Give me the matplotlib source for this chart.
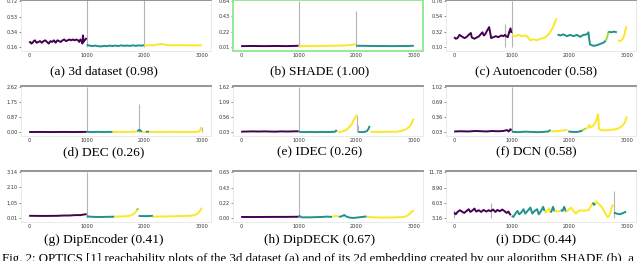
"""OPTICS reachability plots, 3x3 grid with a caption underneath."""

import matplotlib
matplotlib.use("Agg")
import matplotlib.pyplot as plt

# ---------------------------------------------------------------------------
# Data
# ---------------------------------------------------------------------------

PURPLE = "#440154"
TEAL = "#21918c"
YELLOW = "#fde725"
LIME = "#a0da39"

TITLES = [
    "(a) 3d dataset (0.98)", "(b) SHADE (1.00)", "(c) Autoencoder (0.58)",
    "(d) DEC (0.26)", "(e) IDEC (0.26)", "(f) DCN (0.58)",
    "(g) DipEncoder (0.41)", "(h) DipDECK (0.67)", "(i) DDC (0.44)",
]

YTICKS = [
    [0.16, 0.34, 0.53, 0.72], [0.01, 0.22, 0.43, 0.64], [0.10, 0.32, 0.54, 0.76],
    [0.00, 0.87, 1.75, 2.62], [0.03, 0.56, 1.09, 1.62], [0.03, 0.36, 0.69, 1.02],
    [0.01, 1.05, 2.10, 3.14], [0.00, 0.22, 0.43, 0.65], [3.16, 6.03, 8.90, 11.78],
]
XTICKS = [0, 1000, 2000, 3000]

# (a) 3d dataset
a_segments = [
    (PURPLE,
     [0, 20, 40, 60, 80, 100, 130, 160, 190, 220, 250, 280, 310, 340, 370, 400,
      430, 460, 490, 520, 550, 580, 610, 640, 670, 700, 730, 760, 790, 820, 850,
      870, 890, 910, 925, 935, 945, 960, 980, 995],
     [0.21, 0.22, 0.20, 0.21, 0.23, 0.24, 0.21, 0.22, 0.23, 0.21, 0.23, 0.24,
      0.22, 0.20, 0.23, 0.22, 0.24, 0.21, 0.24, 0.23, 0.22, 0.24, 0.25, 0.23,
      0.24, 0.25, 0.24, 0.25, 0.24, 0.25, 0.24, 0.22, 0.25, 0.23, 0.20, 0.30,
      0.22, 0.24, 0.25, 0.27]),
    (TEAL,
     [1000, 1020, 1050, 1100, 1150, 1200, 1250, 1300, 1350, 1400, 1450, 1500,
      1550, 1600, 1650, 1700, 1750, 1800, 1850, 1900, 1950, 1995],
     [0.19, 0.18, 0.175, 0.17, 0.175, 0.168, 0.165, 0.172, 0.168, 0.175, 0.17,
      0.175, 0.17, 0.178, 0.172, 0.176, 0.172, 0.178, 0.173, 0.177, 0.175, 0.18]),
    (YELLOW,
     [2000, 2050, 2100, 2150, 2200, 2250, 2300, 2350, 2400, 2450, 2500, 2550,
      2600, 2650, 2700, 2750, 2800, 2850, 2900, 2950, 3000],
     [0.18, 0.178, 0.182, 0.178, 0.185, 0.19, 0.195, 0.19, 0.183, 0.178, 0.182,
      0.177, 0.183, 0.178, 0.182, 0.177, 0.18, 0.176, 0.18, 0.178, 0.18]),
]
a_spikes = [(1000, 0.76), (2000, 0.76)]

# (b) SHADE
b_segments = [
    (PURPLE, [0, 200, 400, 600, 800, 1000],
     [0.02, 0.022, 0.02, 0.022, 0.02, 0.025]),
    (YELLOW, [1000, 1300, 1600, 1800, 1900, 1980, 2000],
     [0.02, 0.022, 0.025, 0.03, 0.035, 0.045, 0.04]),
    (TEAL, [2000, 2300, 2600, 2900, 3000],
     [0.025, 0.022, 0.02, 0.022, 0.025]),
]
b_spikes = [(1000, 0.64), (2000, 0.51)]

# (c) Autoencoder
c_segments = [
    (PURPLE,
     [0, 29, 58, 93, 133, 180, 220, 261, 290, 307, 353, 394, 434, 469, 492, 515,
      538, 573, 608, 625, 643, 683, 724, 770, 816, 857, 880, 903, 932, 955, 979,
      995],
     [0.24, 0.217, 0.226, 0.273, 0.25, 0.226, 0.245, 0.28, 0.30, 0.236, 0.217,
      0.236, 0.254, 0.29, 0.31, 0.264, 0.28, 0.334, 0.385, 0.31, 0.226, 0.24,
      0.254, 0.24, 0.264, 0.254, 0.273, 0.254, 0.24, 0.31, 0.367, 0.30]),
    (YELLOW,
     [1005, 1060, 1117, 1175, 1233, 1280, 1320, 1378, 1436, 1494, 1552, 1610,
      1668, 1725, 1766, 1783],
     [0.264, 0.254, 0.273, 0.254, 0.264, 0.24, 0.194, 0.208, 0.194, 0.217,
      0.226, 0.254, 0.31, 0.40, 0.49, 0.51]),
    (TEAL,
     [1795, 1841, 1899, 1957, 2015, 2073, 2131, 2189, 2247, 2304, 2333, 2345,
      2362, 2420, 2478, 2536, 2594, 2634],
     [0.28, 0.264, 0.28, 0.254, 0.273, 0.254, 0.273, 0.245, 0.273, 0.28, 0.31,
      0.217, 0.133, 0.114, 0.123, 0.142, 0.16, 0.19]),
    (LIME, [2634, 2658, 2681], [0.19, 0.24, 0.32]),
    (TEAL, [2681, 2727, 2773, 2826], [0.32, 0.31, 0.32, 0.31]),
    (YELLOW, [2843, 2883, 2924, 2953, 2982, 3000],
     [0.194, 0.184, 0.208, 0.264, 0.367, 0.395]),
]
c_spikes = [(892, 0.43), (1000, 0.76)]

# (d) DEC
d_segments = [
    (PURPLE, [0, 200, 400, 600, 800, 1000], [0.02, 0.025, 0.02, 0.025, 0.02, 0.03]),
    (TEAL, [1000, 1100, 1200, 1300, 1400, 1450], [0.03, 0.02, 0.03, 0.02, 0.03, 0.02]),
    (YELLOW, [1450, 1550, 1650, 1750, 1850, 1880], [0.02, 0.03, 0.02, 0.03, 0.04, 0.05]),
    (TEAL, [1880, 1900, 1920, 1940, 1960], [0.05, 0.12, 0.15, 0.08, 0.03]),
    (YELLOW, [1960, 2000, 2030], [0.03, 0.02, 0.03]),
    (TEAL, [2030, 2060, 2080], [0.03, 0.04, 0.03]),
    (YELLOW, [2080, 2300, 2500, 2700, 2900, 2960, 2990],
     [0.03, 0.02, 0.03, 0.02, 0.03, 0.06, 0.30]),
]
d_spikes = [(1000, 2.62), (1907, 1.67), (3000, 0.34)]

# (e) IDEC
e_segments = [
    (PURPLE, [0, 100, 200, 300, 400, 500, 600, 700, 800, 900, 1000],
     [0.055, 0.06, 0.065, 0.06, 0.065, 0.06, 0.055, 0.065, 0.06, 0.065, 0.07]),
    (TEAL, [1000, 1100, 1200, 1300, 1400, 1500, 1618, 1641, 1659],
     [0.05, 0.04, 0.045, 0.04, 0.045, 0.04, 0.05, 0.065, 0.12]),
    (YELLOW, [1676, 1752, 1810, 1850, 1885, 1920, 1943, 1972, 2001, 2013],
     [0.05, 0.053, 0.10, 0.147, 0.24, 0.30, 0.416, 0.53, 0.61, 0.66]),
    (TEAL, [2036, 2080, 2129, 2187, 2216, 2233],
     [0.04, 0.04, 0.04, 0.077, 0.17, 0.26]),
    (YELLOW, [2245, 2400, 2550, 2709, 2796, 2871, 2929, 2958, 2981, 3000],
     [0.053, 0.045, 0.05, 0.053, 0.09, 0.147, 0.24, 0.33, 0.45, 0.51]),
]
e_spikes = [(1000, 1.62), (2020, 0.60), (2030, 0.30)]

# (f) DCN
f_segments = [
    (PURPLE, [0, 120, 240, 366, 480, 560, 657, 760, 850, 918, 948, 977, 995],
     [0.05, 0.055, 0.05, 0.06, 0.055, 0.05, 0.06, 0.055, 0.06, 0.08, 0.05, 0.10, 0.07]),
    (TEAL, [1000, 1100, 1238, 1350, 1450, 1550, 1640, 1674],
     [0.045, 0.035, 0.045, 0.04, 0.035, 0.04, 0.05, 0.088]),
    (YELLOW, [1686, 1750, 1820, 1880, 1936, 1965],
     [0.05, 0.055, 0.06, 0.07, 0.08, 0.09]),
    (TEAL, [1983, 2052, 2140, 2198, 2227], [0.05, 0.04, 0.04, 0.055, 0.073]),
    (LIME, [2227, 2260, 2285], [0.073, 0.10, 0.117]),
    (YELLOW,
     [2297, 2325, 2343, 2366, 2401, 2436, 2465, 2488, 2500, 2517, 2576, 2692,
      2808, 2866, 2924, 2965, 3000],
     [0.10, 0.14, 0.19, 0.14, 0.16, 0.21, 0.28, 0.377, 0.43, 0.10, 0.073, 0.08,
      0.10, 0.124, 0.174, 0.247, 0.377]),
]
f_spikes = [(1000, 1.02)]

# (g) DipEncoder
g_segments = [
    (PURPLE, [0, 250, 500, 600, 700, 800, 900, 950, 1000],
     [0.18, 0.17, 0.18, 0.20, 0.20, 0.226, 0.226, 0.27, 0.29]),
    (TEAL, [1000, 1050, 1200, 1350, 1480], [0.16, 0.12, 0.096, 0.11, 0.12]),
    (YELLOW, [1480, 1600, 1700, 1760, 1800, 1840, 1870],
     [0.12, 0.14, 0.16, 0.20, 0.27, 0.38, 0.55]),
    (LIME, [1870, 1885, 1895], [0.55, 0.66, 0.59]),
    (TEAL, [1900, 1950, 2050, 2150], [0.18, 0.16, 0.16, 0.18]),
    (YELLOW, [2150, 2400, 2600, 2800, 2880, 2930, 2960, 2990, 3000],
     [0.12, 0.14, 0.16, 0.18, 0.226, 0.33, 0.485, 0.66, 0.72]),
]
g_spikes = [(1000, 3.14)]

# (h) DipDECK
h_segments = [
    (PURPLE, [0, 200, 400, 600, 800, 1000],
     [0.019, 0.018, 0.019, 0.02, 0.02, 0.022]),
    (TEAL, [1000, 1050, 1200, 1400, 1500, 1580],
     [0.04, 0.014, 0.014, 0.019, 0.024, 0.019]),
    (YELLOW, [1580, 1620, 1680, 1700], [0.024, 0.033, 0.028, 0.02]),
    (TEAL, [1700, 1760, 1790, 1820, 1880, 1950, 2050, 2150, 2180],
     [0.019, 0.033, 0.047, 0.028, 0.01, 0.005, 0.014, 0.024, 0.026]),
    (YELLOW, [2180, 2300, 2500, 2700, 2820, 2880, 2930, 2965, 3000],
     [0.019, 0.014, 0.01, 0.014, 0.019, 0.033, 0.066, 0.095, 0.114]),
]
h_spikes = [(1000, 0.65)]

# (i) DDC
i_segments = [
    (PURPLE,
     [0, 29, 59, 100, 135, 176, 218, 253, 282, 323, 353, 382, 429, 470, 512, 559,
      600, 635, 676, 717, 753, 794, 835, 870, 911, 941, 970, 988],
     [4.23, 3.91, 4.35, 4.67, 4.42, 4.17, 4.54, 4.86, 4.35, 4.67, 4.98, 4.42,
      4.67, 4.35, 4.73, 4.42, 4.67, 4.48, 4.80, 4.35, 4.73, 4.48, 4.80, 4.54,
      4.17, 4.42, 3.91, 3.79]),
    (TEAL,
     [1000, 1029, 1064, 1100, 1129, 1164, 1205, 1235, 1276, 1323, 1358, 1399,
      1441, 1470, 1511, 1546, 1570],
     [3.6, 3.41, 4.04, 4.54, 3.91, 4.23, 4.86, 4.04, 4.54, 5.17, 4.04, 4.54,
      4.86, 3.91, 4.54, 5.30, 4.54]),
    (YELLOW, [1570, 1588, 1617, 1646, 1676], [4.54, 4.23, 4.54, 5.05, 4.23]),
    (TEAL, [1676, 1693, 1717, 1746], [4.23, 4.54, 5.30, 4.42]),
    (YELLOW, [1746, 1764, 1811, 1852], [4.42, 4.54, 4.42, 4.67]),
    (TEAL, [1852, 1882, 1911, 1940], [4.67, 4.54, 5.30, 4.42]),
    (YELLOW,
     [1940, 1958, 1999, 2029, 2070, 2117, 2158, 2205, 2252, 2293, 2334, 2381, 2411],
     [4.42, 4.42, 4.86, 5.17, 4.54, 4.04, 4.54, 4.67, 4.54, 4.67, 4.67, 5.49, 6.12]),
    (TEAL, [2411, 2428, 2452], [6.12, 5.68, 5.93]),
    (YELLOW,
     [2452, 2470, 2499, 2546, 2587, 2628, 2664, 2693, 2722, 2746, 2764],
     [5.93, 6.30, 5.93, 5.49, 4.86, 4.04, 3.41, 3.6, 4.54, 5.49, 5.68]),
    (TEAL, [2775, 2822, 2881, 2940, 2987], [4.23, 4.04, 3.91, 4.17, 4.42]),
]
i_spikes = [(0, 4.7), (647, 5.93), (2770, 8.32)]

SEGMENTS = [a_segments, b_segments, c_segments, d_segments, e_segments,
            f_segments, g_segments, h_segments, i_segments]
SPIKES = [a_spikes, b_spikes, c_spikes, d_spikes, e_spikes,
          f_spikes, g_spikes, h_spikes, i_spikes]

CAPTION = ("Fig. 2: OPTICS [1] reachability plots of the 3d dataset (a) and of "
           "its 2d embedding created by our algorithm SHADE (b), a")

# ---------------------------------------------------------------------------
# Layout (pixels of a 640x261 figure)
# ---------------------------------------------------------------------------

W, H = 640, 261
COL_LEFT = [20.5, 232.5, 445.5]
COL_WIDTH = 190
COL_CAPTION_X = [104, 320, 536]
ROW_TOP = [0, 86, 171]
ROW_BOTTOM = [50.5, 136, 222]
ROW_CAPTION_Y = [71, 152, 240]

plt.rcParams["font.family"] = "DejaVu Sans"
fig = plt.figure(figsize=(W / 100, H / 100), dpi=100)

for k in range(9):
    r, c = divmod(k, 3)
    ax = fig.add_axes([COL_LEFT[c] / W, 1 - ROW_BOTTOM[r] / H,
                       COL_WIDTH / W, (ROW_BOTTOM[r] - ROW_TOP[r]) / H])
    ticks = YTICKS[k]
    lo, hi = ticks[0], ticks[-1]
    rng = hi - lo

    for x, top in SPIKES[k]:
        ax.vlines(x, lo, top, color="#b4b4b4", linewidth=0.8, zorder=1)
    for color, xs, ys in SEGMENTS[k]:
        ax.plot(xs, ys, color=color, linewidth=1.4, solid_capstyle="butt",
                zorder=2)

    ax.set_xlim(-150, 3150)
    ax.set_ylim(lo - 0.08 * rng, hi + 0.025 * rng)
    ax.set_xticks(XTICKS)
    ax.set_yticks(ticks)
    ax.set_yticklabels([f"{t:.2f}" for t in ticks])
    ax.tick_params(labelsize=3.6, length=1.2, width=0.4, pad=0.8,
                   colors="#333333")
    ax.tick_params(axis="x", length=0, pad=1.5)

    for name, sp in ax.spines.items():
        sp.set_color("#e2e2e2")
        sp.set_linewidth(0.5)
    ax.spines["top"].set_color("#8c8c8c")
    ax.spines["top"].set_linewidth(1.3)
    if k == 1:
        for sp in ax.spines.values():
            sp.set_color("#8ee88e")
            sp.set_linewidth(1.3)

    fig.text(COL_CAPTION_X[c] / W, 1 - ROW_CAPTION_Y[r] / H, TITLES[k],
             ha="center", va="center", fontsize=9.6,
             family="Liberation Serif")

fig.text(2 / W, 1 - 262 / H, CAPTION, ha="left", va="baseline",
         fontsize=9.3, family="Liberation Serif")

fig.savefig("out.png", dpi=100)
